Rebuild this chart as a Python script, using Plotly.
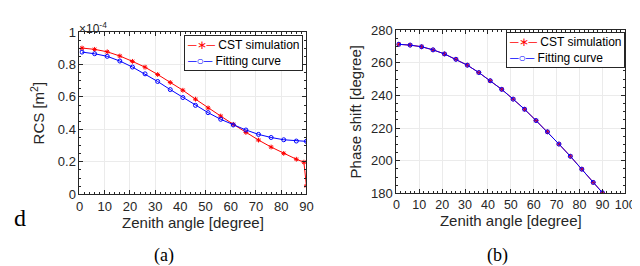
import plotly.graph_objects as go

# Zenith angles (degree)
angle_cst_rcs = [1, 6, 11, 16, 21, 26, 31, 36, 41, 46, 51, 56, 61, 66, 71, 76, 81, 86, 89, 90]
angle_fit = [1, 6, 11, 16, 21, 26, 31, 36, 41, 46, 51, 56, 61, 66, 71, 76, 81, 86, 90]

# RCS values in units of 1e-4 m^2
rcs_cst = [0.901, 0.893, 0.878, 0.852, 0.819, 0.783, 0.738, 0.689, 0.641, 0.586,
           0.532, 0.482, 0.431, 0.381, 0.334, 0.291, 0.252, 0.216, 0.198, 0.052]
rcs_fit = [0.876, 0.866, 0.850, 0.821, 0.784, 0.742, 0.695, 0.645, 0.596, 0.548,
           0.503, 0.462, 0.427, 0.396, 0.369, 0.350, 0.336, 0.328, 0.326]

# Phase shift (degree)
phase_cst = [271.3, 270.8, 269.8, 267.9, 265.4, 262.1, 258.5, 254.0, 249.0, 243.7,
             237.7, 231.5, 224.6, 217.7, 210.2, 202.7, 194.8, 186.7, 180.4]
phase_fit = [271.3, 270.8, 269.8, 267.9, 265.4, 262.1, 258.5, 254.0, 249.0, 243.7,
             237.7, 231.5, 224.6, 217.7, 210.2, 202.7, 194.8, 186.7, 180.4]

x_ticks_a = [0, 10, 20, 30, 40, 50, 60, 70, 80, 90]
x_ticks_b = [0, 10, 20, 30, 40, 50, 60, 70, 80, 90, 100]
y_ticks_a = [0, 0.2, 0.4, 0.6, 0.8, 1]
y_ticklabels_a = ["0", "0.2", "0.4", "0.6", "0.8", "1"]
y_ticks_b = [180, 200, 220, 240, 260, 280]

series_names = ["CST simulation", "Fitting curve"]

RED = "#ff0000"
BLUE = "#0000ff"
TXT = "#262626"
FONT = "Liberation Sans, Arial, sans-serif"
SERIF = "Liberation Serif, Times New Roman, serif"

fig = go.Figure()

def add_pair(x_cst, y_cst, x_fit, y_fit, xa, ya):
    fig.add_trace(go.Scatter(x=x_cst, y=y_cst, mode="lines+markers", name=series_names[0],
                             line=dict(color=RED, width=1),
                             marker=dict(symbol="asterisk", size=4, color=RED, line=dict(color=RED, width=1)),
                             xaxis=xa, yaxis=ya, showlegend=False))
    fig.add_trace(go.Scatter(x=x_fit, y=y_fit, mode="lines+markers", name=series_names[1],
                             line=dict(color=BLUE, width=1),
                             marker=dict(symbol="circle-open", size=4, color=BLUE, line=dict(color=BLUE, width=1)),
                             xaxis=xa, yaxis=ya, showlegend=False))

add_pair(angle_cst_rcs, rcs_cst, angle_fit, rcs_fit, "x", "y")
add_pair(angle_fit, phase_cst, angle_fit, phase_fit, "x2", "y2")

def axis_style(**kw):
    d = dict(showline=True, linecolor=TXT, linewidth=1, mirror="allticks",
             ticks="inside", ticklen=4, tickcolor=TXT, tickwidth=1,
             showgrid=True, gridcolor="#ebebeb", gridwidth=1, zeroline=False,
             tickfont=dict(family=FONT, size=13, color=TXT),
             title_font=dict(family=FONT, size=15, color=TXT))
    d.update(kw)
    return d

W, H = 640, 266
ax_a = (69 / W, 301 / W)
ay_a = (1 - 190 / H, 1 - 18 / H)
ax_b = (393 / W, 627 / W)
ay_b = (1 - 189 / H, 1 - 16 / H)

minor_x = dict(ticks="inside", ticklen=2, dtick=2, tickcolor=TXT, showgrid=False)

legend_text = (f'<span style="color:{RED}">─∗─</span> {series_names[0]}<br>'
               f'<span style="color:{BLUE}">─○─</span> {series_names[1]}')

def legend_box(xr, ytop):
    return dict(text=legend_text, x=xr, y=ytop, xref="paper", yref="paper",
                xanchor="right", yanchor="top", align="left", showarrow=False,
                bgcolor="white", bordercolor=TXT, borderwidth=1, borderpad=2,
                font=dict(family=FONT, size=12, color="#000000"))

fig.update_layout(
    width=W, height=H, margin=dict(l=0, r=0, t=0, b=0),
    paper_bgcolor="white", plot_bgcolor="white",
    showlegend=False,
    xaxis=axis_style(domain=ax_a, range=[0, 90], tickvals=x_ticks_a, anchor="y",
                     title=dict(text="Zenith angle [degree]", standoff=4),
                     minor=minor_x),
    yaxis=axis_style(domain=ay_a, range=[0, 1], tickvals=y_ticks_a, ticktext=y_ticklabels_a, anchor="x",
                     title=dict(text="RCS [m<sup>2</sup>]", standoff=9),
                     minor=dict(ticks="inside", ticklen=2, dtick=0.05, tickcolor=TXT, showgrid=False)),
    xaxis2=axis_style(domain=ax_b, range=[0, 100], tickvals=x_ticks_b, anchor="y2",
                      title=dict(text="Zenith angle [degree]", standoff=4),
                      tickfont=dict(family=FONT, size=12.5, color=TXT),
                      minor=minor_x),
    yaxis2=axis_style(domain=ay_b, range=[180, 280], tickvals=y_ticks_b, anchor="x2",
                      title=dict(text="Phase shift [degree]", standoff=5),
                      minor=dict(ticks="inside", ticklen=2, dtick=5, tickcolor=TXT, showgrid=False)),
    annotations=[
        legend_box(297 / W, 1 - 21 / H),
        legend_box(627 / W, 1 - 18 / H),
        dict(text="×10<sup>-4</sup>", x=66 / W, y=1 - 3 / H, xref="paper", yref="paper",
             xanchor="left", yanchor="top", showarrow=False,
             font=dict(family=FONT, size=12, color=TXT)),
        dict(text="d", x=0, y=1 - 231 / H, xref="paper", yref="paper",
             xanchor="left", yanchor="bottom", showarrow=False,
             font=dict(family=SERIF, size=24, color="#000000")),
        dict(text="(a)", x=155 / W, y=1 - 255 / H, xref="paper", yref="paper",
             xanchor="center", yanchor="middle", showarrow=False,
             font=dict(family=SERIF, size=18, color="#000000")),
        dict(text="(b)", x=496 / W, y=1 - 255 / H, xref="paper", yref="paper",
             xanchor="center", yanchor="middle", showarrow=False,
             font=dict(family=SERIF, size=18, color="#000000")),
    ],
)

fig.write_html("out.html")
